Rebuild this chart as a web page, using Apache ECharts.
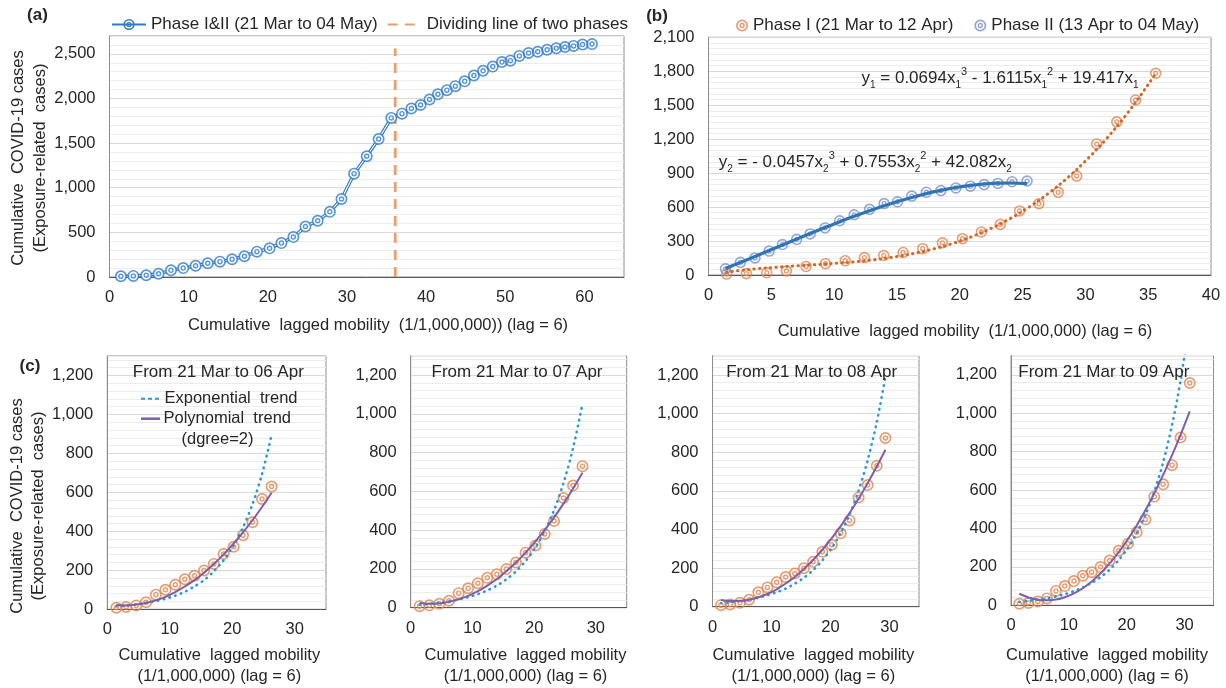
<!DOCTYPE html>
<html><head><meta charset="utf-8">
<script src="https://cdn.jsdelivr.net/npm/echarts@6/dist/echarts.min.js"></script>
<style>html,body{margin:0;padding:0;background:#fff}#c{width:1226px;height:688px}</style>
</head><body><div id="c"></div>
<script>
// ---------- data ----------
const phase1Mobility = [1.44, 3.01, 4.64, 6.20, 7.77, 9.31, 10.88, 12.41, 13.95, 15.49, 17.05, 18.62, 20.22, 21.72, 23.23, 24.76, 26.30, 27.84, 29.31, 30.90, 32.50, 34.00, 35.60];
const phase1Cases = [8, 12, 20, 36, 75, 100, 126, 154, 172, 199, 233, 284, 321, 380, 447, 566, 630, 730, 874, 1158, 1353, 1546, 1782];
const phase2Mobility = [1.35, 2.54, 3.70, 4.83, 5.89, 7.02, 8.09, 9.28, 10.44, 11.60, 12.82, 13.98, 15.05, 16.18, 17.34, 18.50, 19.69, 20.85, 21.94, 23.04, 24.17, 25.36];
const phase2Cases = [55, 112, 151, 211, 269, 315, 363, 416, 479, 532, 580, 631, 647, 697, 731, 746, 769, 785, 799, 809, 824, 830];
const allMobility = [1.44, 3.01, 4.64, 6.20, 7.77, 9.31, 10.88, 12.41, 13.95, 15.49, 17.05, 18.62, 20.22, 21.72, 23.23, 24.76, 26.30, 27.84, 29.31, 30.90, 32.50, 34.00, 35.60,
  36.95, 38.14, 39.30, 40.43, 41.49, 42.62, 43.69, 44.88, 46.04, 47.20, 48.42, 49.58, 50.65, 51.78, 52.94, 54.10, 55.29, 56.45, 57.54, 58.64, 59.77, 60.96];
const allCases = [8, 12, 20, 36, 75, 100, 126, 154, 172, 199, 233, 284, 321, 380, 447, 566, 630, 730, 874, 1158, 1353, 1546, 1782,
  1830, 1888, 1927, 1988, 2047, 2093, 2138, 2192, 2257, 2310, 2357, 2408, 2424, 2477, 2509, 2524, 2546, 2562, 2577, 2589, 2604, 2609];
const dividerMobility = 36.1;
const dividerSpan = [0, 2560];
// trend lines of panel (b), values at the data x positions
const phase1Trend = [25, 46, 62, 75, 86, 97, 110, 125, 146, 172, 207, 251, 308, 373, 452, 546, 659, 789, 932, 1109, 1311, 1525, 1780];
const phase2Trend = [58, 111, 164, 216, 265, 317, 366, 419, 470, 519, 567, 611, 649, 685, 719, 748, 773, 792, 804, 812, 813, 808];
// panel (c): number of days in each window, titles and trend values
const windowDays = [17, 18, 19, 20];
const windowTitles = ['From 21 Mar to 06 Apr', 'From 21 Mar to 07 Apr', 'From 21 Mar to 08 Apr', 'From 21 Mar to 09 Apr'];
const expTrend06 = [15, 19, 25, 33, 42, 54, 70, 90, 117, 150, 195, 252, 328, 420, 539, 694, 895];
const expTrend07 = [15, 20, 26, 33, 42, 54, 70, 89, 114, 146, 187, 241, 311, 395, 503, 643, 822, 1052];
const expTrend08 = [18, 23, 29, 37, 47, 59, 75, 94, 119, 150, 189, 240, 304, 381, 478, 602, 758, 955, 1190];
const expTrend09 = [18, 23, 29, 37, 46, 58, 74, 93, 117, 147, 186, 236, 299, 375, 470, 592, 745, 939, 1170, 1486];
const polyTrend06 = [22, 20, 24, 32, 46, 64, 88, 117, 150, 188, 232, 282, 338, 395, 457, 525, 598];
const polyTrend07 = [24, 20, 22, 30, 43, 61, 85, 114, 148, 188, 233, 284, 342, 401, 466, 537, 614, 696];
const polyTrend08 = [35, 30, 30, 36, 49, 66, 90, 120, 154, 195, 242, 295, 355, 417, 485, 559, 640, 726, 813];
const polyTrend09 = [60, 41, 29, 26, 30, 42, 62, 89, 124, 167, 218, 277, 345, 416, 495, 583, 679, 782, 888, 1010];
const expTrends = [expTrend06, expTrend07, expTrend08, expTrend09];
const polyTrends = [polyTrend06, polyTrend07, polyTrend08, polyTrend09];

// ---------- styling ----------
const FONT = '"Liberation Sans", Arial, Helvetica, sans-serif';
const TXT = '#262626';
const BLUE = '#2F7BC8';
const ORANGE = '#DE8550';
const LAVENDER = '#7891CD';
const MAJOR = '#d9d9d9', MINOR = '#ececec';
const RING = 'path://M50,0A50,50,0,1,1,50,100A50,50,0,1,1,50,0ZM50,14A36,36,0,1,0,50,86A36,36,0,1,0,50,14ZM50,27A23,23,0,1,1,50,73A23,23,0,1,1,50,27ZM50,39A11,11,0,1,0,50,61A11,11,0,1,0,50,39Z';

const pairs = (xs, ys) => xs.map((x, i) => [x, ys[i]]);
const fmt = v => Math.round(v).toLocaleString('en-US');
function gridColors(minorPerMajor) { const a = [MAJOR]; for (let i = 1; i < minorPerMajor; i++) a.push(MINOR); return a; }

function makeY(gridIndex, max, step, major) {
  return {
    type: 'value', gridIndex, min: 0, max, interval: step,
    axisLine: { show: true, onZero: false, lineStyle: { color: '#8c8c8c' } },
    axisTick: { show: false },
    axisLabel: { color: TXT, fontSize: 16.5, fontFamily: FONT, margin: 14, showMaxLabel: max % major === 0,
      formatter: v => (Math.round(v) % major === 0 ? fmt(v) : '') },
    splitLine: { show: true, lineStyle: { color: gridColors(major / step), width: 1 } }
  };
}
function makeX(gridIndex, max, step) {
  return {
    type: 'value', gridIndex, min: 0, max, interval: step,
    axisLine: { show: true, onZero: false, lineStyle: { color: '#595959' } },
    axisTick: { show: false }, splitLine: { show: false },
    axisLabel: { color: TXT, fontSize: 16.5, fontFamily: FONT, margin: 12, showMaxLabel: max % step === 0,
      formatter: v => (Math.round(v) % step === 0 ? String(v) : '') }
  };
}
const gridBase = { show: true, borderColor: '#8c8c8c', borderWidth: 1, backgroundColor: 'transparent', containLabel: false, outerBoundsMode: 'none' };
const grids = [
  { left: 109.5, top: 36, width: 514.5, height: 241 },
  { left: 708.5, top: 37.3, width: 502.5, height: 237.7 },
  { left: 107.3, top: 356, width: 218.7, height: 253.3 },
  { left: 410.7, top: 355.7, width: 216, height: 252 },
  { left: 712.5, top: 355.7, width: 206.5, height: 251 },
  { left: 1011, top: 355.7, width: 202.5, height: 249.6 }
].map(g => Object.assign({}, gridBase, g));

const xAxes = [makeX(0, 65, 10), makeX(1, 40, 5), makeX(2, 35, 10), makeX(3, 35, 10), makeX(4, 35, 10), makeX(5, 35, 10)];
const yAxes = [makeY(0, 2700, 100, 500), makeY(1, 2100, 50, 300), makeY(2, 1300, 40, 200), makeY(3, 1300, 40, 200), makeY(4, 1300, 40, 200), makeY(5, 1300, 40, 200)];

const aData = pairs(allMobility, allCases);
const series = [
  { type: 'line', name: 'Phase I&II (21 Mar to 04 May)', xAxisIndex: 0, yAxisIndex: 0, data: aData,
    symbol: RING, symbolSize: 12, showSymbol: false, itemStyle: { color: BLUE }, lineStyle: { color: BLUE, width: 3.4 }, z: 2 },
  { type: 'line', xAxisIndex: 0, yAxisIndex: 0, data: aData, symbol: 'circle', symbolSize: 10,
    itemStyle: { color: '#ffffff', borderWidth: 0 }, lineStyle: { color: '#ffffff', width: 1.1 }, z: 3 },
  { type: 'scatter', xAxisIndex: 0, yAxisIndex: 0, data: aData, symbol: RING, symbolSize: 12, itemStyle: { color: BLUE }, z: 4 },
  { type: 'line', name: 'Dividing line of two phases', xAxisIndex: 0, yAxisIndex: 0,
    data: dividerSpan.map(v => [dividerMobility, v]), symbol: 'none',
    itemStyle: { color: '#E6A073' }, lineStyle: { color: '#E6A073', width: 2.8, type: [10, 7] }, z: 2 },
  // panel (b)
  { type: 'scatter', name: 'Phase I (21 Mar to 12 Apr)', xAxisIndex: 1, yAxisIndex: 1, data: pairs(phase1Mobility, phase1Cases),
    symbol: RING, symbolSize: 11.5, itemStyle: { color: ORANGE }, z: 3 },
  { type: 'scatter', name: 'Phase II (13 Apr to 04 May)', xAxisIndex: 1, yAxisIndex: 1, data: pairs(phase2Mobility, phase2Cases),
    symbol: RING, symbolSize: 11.5, itemStyle: { color: LAVENDER }, z: 3 },
  { type: 'line', xAxisIndex: 1, yAxisIndex: 1, data: pairs(phase1Mobility, phase1Trend), symbol: 'none', smooth: 0.3,
    lineStyle: { color: '#D06A2A', width: 3, type: [0.5, 5], cap: 'round' }, z: 4 },
  { type: 'line', xAxisIndex: 1, yAxisIndex: 1, data: pairs(phase2Mobility, phase2Trend), symbol: 'none', smooth: 0.3,
    lineStyle: { color: '#2E75B6', width: 3.2 }, z: 4 }
];
windowDays.forEach((n, k) => {
  const xs = phase1Mobility.slice(0, n);
  series.push({ type: 'scatter', xAxisIndex: 2 + k, yAxisIndex: 2 + k, data: pairs(xs, phase1Cases.slice(0, n)),
    symbol: RING, symbolSize: 12, itemStyle: { color: ORANGE }, z: 3 });
  series.push({ type: 'line', xAxisIndex: 2 + k, yAxisIndex: 2 + k, data: pairs(xs, expTrends[k]), symbol: 'none', smooth: 0.3, clip: true,
    lineStyle: { color: '#2A98D5', width: 2.6, type: [0.5, 5.5], cap: 'round' }, z: 4 });
  series.push({ type: 'line', xAxisIndex: 2 + k, yAxisIndex: 2 + k, data: pairs(xs, polyTrends[k]), symbol: 'none', smooth: 0.3, clip: true,
    lineStyle: { color: '#7D5FA9', width: 2 }, z: 5 });
});

function txt(text, x, y, o) {
  o = o || {};
  const st = { text, fill: TXT, fontSize: o.size || 16.5, fontFamily: FONT, fontWeight: o.weight || 'normal',
    align: o.align || 'center', verticalAlign: 'middle', textAlign: o.align || 'center', textVerticalAlign: 'middle',
    lineHeight: o.lh || 20 };
  if (o.rich) st.rich = o.rich;
  return { type: 'text', x, y, rotation: o.rot || 0, style: st, z: 100, silent: true };
}
const eqRich = {
  n: { fontSize: 17, lineHeight: 24, fontFamily: FONT, fill: TXT, color: TXT },
  sub: { fontSize: 10, lineHeight: 14, verticalAlign: 'bottom', fontFamily: FONT, fill: TXT, color: TXT },
  sup: { fontSize: 11, lineHeight: 14, verticalAlign: 'top', fontFamily: FONT, fill: TXT, color: TXT }
};
const graphics = [
  txt('(a)', 37.5, 15, { size: 17, weight: 'bold' }),
  txt('(b)', 657, 16, { size: 17, weight: 'bold' }),
  txt('(c)', 30, 366, { size: 17, weight: 'bold' }),
  txt('Cumulative  COVID-19 cases\n(Exposure-related  cases)', 29, 158, { rot: Math.PI / 2, lh: 22 }),
  txt('Cumulative  COVID-19 cases\n(Exposure-related  cases)', 27.7, 506, { rot: Math.PI / 2, lh: 21 }),
  txt('Cumulative  lagged mobility  (1/1,000,000)) (lag = 6)', 378, 325),
  txt('Cumulative  lagged mobility  (1/1,000,000) (lag = 6)', 965, 331),
  txt('{n|y}{sub|1}{n| = 0.0694x}{sub|1}{sup|3}{n| - 1.6115x}{sub|1}{sup|2}{n| + 19.417x}{sub|1}', 861.5, 78.3, { align: 'left', rich: eqRich }),
  txt('{n|y}{sub|2}{n| = - 0.0457x}{sub|2}{sup|3}{n| + 0.7553x}{sub|2}{sup|2}{n| + 42.082x}{sub|2}', 718.8, 162.3, { align: 'left', rich: eqRich }),
  { type: 'line', shape: { x1: 141, y1: 398.7, x2: 160, y2: 398.7 }, style: { stroke: '#2A98D5', lineWidth: 2, lineDash: [4, 3] }, z: 100, silent: true },
  txt('Exponential  trend', 164.5, 398.7, { align: 'left' }),
  { type: 'line', shape: { x1: 141, y1: 418.7, x2: 160, y2: 418.7 }, style: { stroke: '#7D5FA9', lineWidth: 2.5 }, z: 100, silent: true },
  txt('Polynomial  trend', 163.5, 418.7, { align: 'left' }),
  txt('(dgree=2)', 217.5, 439.3)
];
const titleX = [218.3, 517, 811.7, 1103.8];
const xTitleX = [219.3, 525.5, 813.3, 1107];
windowTitles.forEach((t, k) => {
  graphics.push(txt(t, titleX[k], 372.5, { size: 17 }));
  graphics.push(txt('Cumulative  lagged mobility\n(1/1,000,000) (lag = 6)', xTitleX[k], 666.3, { lh: 20.7 }));
});

const option = {
  animation: false,
  backgroundColor: '#ffffff',
  textStyle: { fontFamily: FONT },
  grid: grids, xAxis: xAxes, yAxis: yAxes, series,
  legend: [
    { left: 106, top: 11, itemWidth: 34, itemHeight: 14, itemGap: 9, selectedMode: false,
      textStyle: { fontSize: 17, color: TXT, fontFamily: FONT },
      data: ['Phase I&II (21 Mar to 04 May)',
        { name: 'Dividing line of two phases', itemStyle: { opacity: 0, color: 'rgba(0,0,0,0)', borderWidth: 0 } }] },
    { left: 731, top: 12, itemWidth: 12, itemHeight: 12, itemGap: 21, selectedMode: false,
      textStyle: { fontSize: 17, color: TXT, fontFamily: FONT },
      data: ['Phase I (21 Mar to 12 Apr)', 'Phase II (13 Apr to 04 May)'] }
  ],
  graphic: { elements: graphics }
};
const chart = echarts.init(document.getElementById('c'), null, { renderer: 'canvas' });
chart.setOption(option);
</script></body></html>
